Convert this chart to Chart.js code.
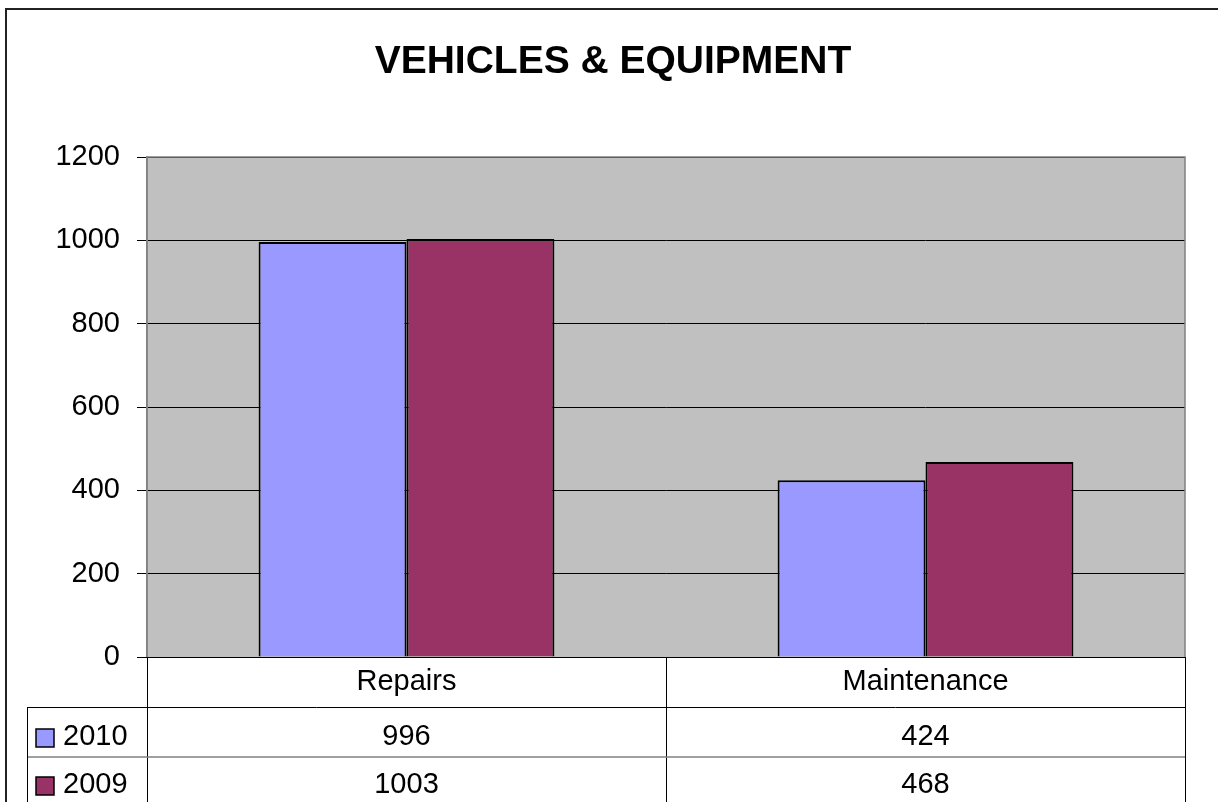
<!DOCTYPE html>
<html>
<head>
<meta charset="utf-8">
<script src="https://cdn.jsdelivr.net/npm/chart.js@4.4.1/dist/chart.umd.min.js"></script>
<style>
  html, body { margin: 0; padding: 0; background: #ffffff; }
  #wrap { width: 1218px; height: 802px; position: relative; }
</style>
</head>
<body>
<div id="wrap"><canvas id="c" width="1218" height="802"></canvas></div>
<script>
const categories = ["Repairs", "Maintenance"];
const seriesNames = ["2010", "2009"];
const values2010 = [996, 424];
const values2009 = [1003, 468];
const yTicks = [0, 200, 400, 600, 800, 1000, 1200];
const chartTitle = "VEHICLES & EQUIPMENT";

const FONT = "'Liberation Sans', Arial, sans-serif";
const colors = ["#9999FF", "#993366"];

const bgPlugin = {
  id: 'plotBg',
  beforeDraw(chart) {
    const {ctx, chartArea: a} = chart;
    ctx.save();
    ctx.fillStyle = '#ffffff';
    ctx.fillRect(0, 0, chart.width, chart.height);
    ctx.fillStyle = '#C0C0C0';
    ctx.fillRect(a.left, a.top, a.right - a.left, a.bottom - a.top);
    ctx.restore();
  },
  afterDraw(chart) {
    const {ctx, chartArea: a} = chart;
    const xs = chart.scales.x;
    const tableSeries = [values2010, values2009];
    ctx.save();
    // title
    ctx.fillStyle = '#000000';
    ctx.font = 'bold 39px ' + FONT;
    ctx.textAlign = 'center';
    ctx.textBaseline = 'middle';
    ctx.fillText(chartTitle, 613, 62);

    // plot border (gray) top/right/left
    ctx.strokeStyle = '#808080';
    ctx.lineWidth = 1.5;
    ctx.beginPath();
    ctx.moveTo(a.left, a.bottom);
    ctx.lineTo(a.left, a.top);
    ctx.lineTo(a.right, a.top);
    ctx.lineTo(a.right, a.bottom);
    ctx.stroke();
    // bottom axis line
    ctx.strokeStyle = '#000000';
    ctx.lineWidth = 1;
    ctx.beginPath();
    ctx.moveTo(a.left - 10, a.bottom + 0.5);
    ctx.lineTo(a.right, a.bottom + 0.5);
    ctx.stroke();

    // data table
    const rowTop = a.bottom;
    const r1 = rowTop + 50, r2 = r1 + 50;
    const mid = (xs.getPixelForValue(0) + xs.getPixelForValue(1)) / 2;
    ctx.strokeStyle = '#000000';
    ctx.lineWidth = 1;
    ctx.beginPath();
    [a.left, mid, a.right].forEach(x => {
      ctx.moveTo(Math.round(x) + 0.5, rowTop);
      ctx.lineTo(Math.round(x) + 0.5, chart.height);
    });
    ctx.moveTo(27.5, r1);
    ctx.lineTo(27.5, chart.height);
    ctx.moveTo(27, r1 + 0.5);
    ctx.lineTo(a.right, r1 + 0.5);
    ctx.stroke();
    ctx.strokeStyle = '#808080';
    ctx.lineWidth = 1.5;
    ctx.beginPath();
    ctx.moveTo(28, r2);
    ctx.lineTo(a.right, r2);
    ctx.stroke();

    ctx.fillStyle = '#000000';
    ctx.font = '29px ' + FONT;
    ctx.textAlign = 'center';
    ctx.textBaseline = 'middle';
    categories.forEach((c, i) => {
      ctx.fillText(c, xs.getPixelForValue(i), rowTop + 25);
    });
    const rowMid = [r1 + 30, r2 + 28];
    tableSeries.forEach((vals, s) => {
      vals.forEach((v, i) => {
        ctx.textAlign = 'center';
        ctx.fillText(String(v), xs.getPixelForValue(i), rowMid[s]);
      });
      // legend key
      const ky = rowMid[s] - 8;
      ctx.fillStyle = colors[s];
      ctx.fillRect(36, ky, 18, 18);
      ctx.strokeStyle = '#000000';
      ctx.lineWidth = 1.5;
      ctx.strokeRect(36, ky, 18, 18);
      ctx.fillStyle = '#000000';
      ctx.textAlign = 'left';
      ctx.fillText(seriesNames[s], 63, rowMid[s]);
    });

    // outer frame
    ctx.strokeStyle = '#222222';
    ctx.lineWidth = 2;
    ctx.beginPath();
    ctx.moveTo(6, chart.height);
    ctx.lineTo(6, 9);
    ctx.lineTo(chart.width, 9);
    ctx.stroke();
    ctx.restore();
  }
};

new Chart(document.getElementById('c'), {
  type: 'bar',
  data: {
    labels: categories,
    datasets: [
      { label: seriesNames[0], data: values2010, backgroundColor: colors[0], borderColor: '#000000', borderWidth: 2, borderSkipped: 'bottom' },
      { label: seriesNames[1], data: values2009, backgroundColor: colors[1], borderColor: '#000000', borderWidth: 2, borderSkipped: 'bottom' }
    ]
  },
  options: {
    responsive: false,
    animation: false,
    devicePixelRatio: 1,
    layout: { padding: { left: 0, top: 157, right: 33, bottom: 145 } },
    datasets: {
      bar: { categoryPercentage: 0.57, barPercentage: 1.0 }
    },
    plugins: {
      legend: { display: false },
      tooltip: { enabled: false },
      title: { display: false }
    },
    scales: {
      x: {
        display: false,
        grid: { display: false }
      },
      y: {
        min: 0,
        max: 1200,
        afterBuildTicks: (s) => { s.ticks = yTicks.map(v => ({ value: v })); },
        afterFit: (s) => { s.width = 147; },
        ticks: {
          color: '#000000',
          font: { family: FONT, size: 29 },
          padding: 17,
          callback: (v) => String(v)
        },
        grid: {
          color: '#000000',
          lineWidth: 1,
          tickLength: 10,
          drawOnChartArea: true
        },
        border: { display: true, color: '#808080', width: 1.5 }
      }
    }
  },
  plugins: [bgPlugin]
});
</script>
</body>
</html>
